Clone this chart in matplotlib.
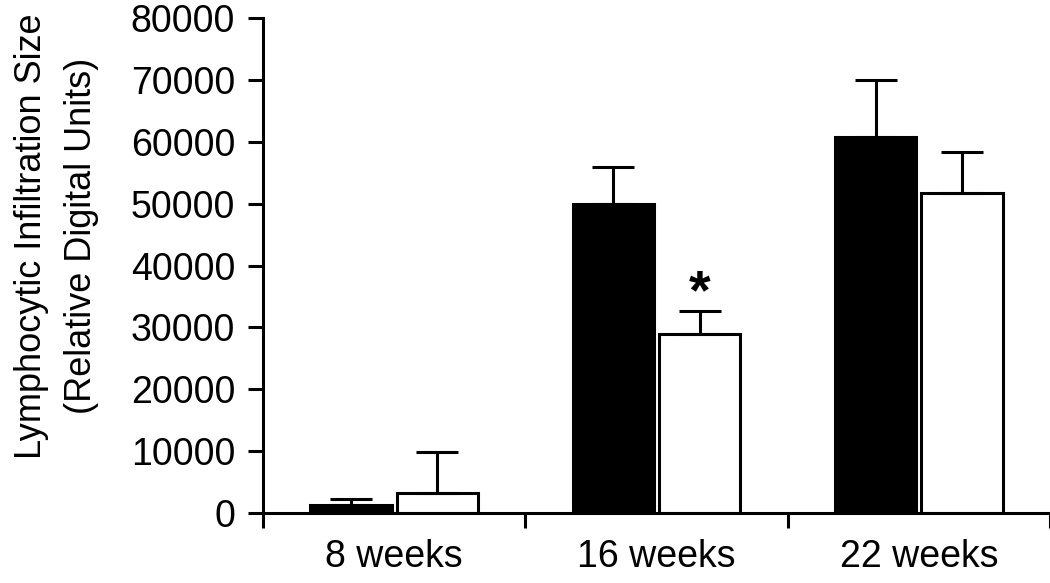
import numpy as np
import matplotlib.pyplot as plt

plt.rcParams['font.family'] = ['Liberation Sans', 'DejaVu Sans']

# data
groups = ["8 weeks", "16 weeks", "22 weeks"]
black_mean = [1300, 50000, 60700]
black_err = [900, 6000, 9300]
white_mean = [3300, 28900, 51800]
white_err = [6500, 3700, 6600]
y_ticks = [0, 10000, 20000, 30000, 40000, 50000, 60000, 70000, 80000]

fig = plt.figure(figsize=(10.5, 5.83), dpi=100)
ax = fig.add_axes([0.2505, 0.12, 0.7495, 0.849])

x = np.arange(len(groups))
w = 0.31
off = 0.165
lw = 2.2

ax.bar(x - off, black_mean, w, color="black", edgecolor="black", linewidth=lw,
       yerr=[np.zeros(3), black_err], error_kw=dict(ecolor="black", elinewidth=lw,
       capsize=15, capthick=lw), zorder=2)
ax.bar(x + off, white_mean, w, color="white", edgecolor="black", linewidth=lw,
       yerr=[np.zeros(3), white_err], error_kw=dict(ecolor="black", elinewidth=lw,
       capsize=15, capthick=lw), zorder=2)

# significance marker
ax.text(x[1] + off, white_mean[1] + white_err[1] - 1400, "*", ha="center", va="bottom",
        fontsize=40, fontweight="bold")

ax.set_xlim(-0.5, 2.5)
ax.set_ylim(0, 80000)
ax.set_yticks(y_ticks)
ax.set_yticklabels([str(v) for v in y_ticks], fontsize=27)

ax.set_xticks(x)
ax.set_xticklabels(groups, fontsize=27)
ax.set_xticks([-0.5, 0.5, 1.5, 2.5], minor=True)
ax.tick_params(axis="x", which="major", length=0, pad=19)
ax.tick_params(axis="x", which="minor", length=11, width=lw, direction="out")
ax.tick_params(axis="y", length=11, width=lw, direction="out", pad=9)

ax.spines["right"].set_visible(False)
ax.spines["top"].set_visible(False)
ax.spines["left"].set_linewidth(lw)
ax.spines["bottom"].set_linewidth(lw)

fig.text(0.054, 0.595, "Lymphocytic Infiltration Size\n(Relative Digital Units)",
         rotation=90, ha="center", va="center", multialignment="center",
         fontsize=26, linespacing=1.55)

fig.savefig("out.png", dpi=100)
